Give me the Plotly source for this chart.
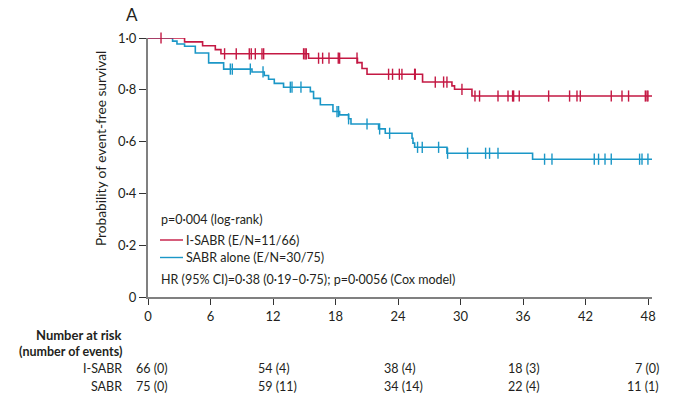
import numpy as np
import plotly.graph_objects as go

# ---- data ----
months_ticks = [0, 6, 12, 18, 24, 30, 36, 42, 48]
surv_ticks = [0, 0.2, 0.4, 0.6, 0.8, 1.0]
surv_ticklabels = ["0", "0·2", "0·4", "0·6", "0·8", "1·0"]

isabr_step_t = [0, 3.51, 5.24, 6.46, 7.0, 15.41, 20.1, 20.54, 21.02, 26.35, 29.17, 29.42, 31.09]
isabr_step_s = [1.0, 0.985, 0.970, 0.955, 0.939, 0.922, 0.905, 0.882, 0.860, 0.830, 0.815, 0.802, 0.776]
isabr_censor = [1.25, 7.35, 8.47, 9.72, 9.91, 10.3, 10.94, 11.1, 14.93, 15.07, 15.19, 16.37, 16.76,
                17.37, 18.26, 18.39, 20.06, 23.09, 23.47, 24.12, 24.37, 25.59, 25.65, 27.57, 28.37,
                28.69, 30.13, 31.38, 31.82, 33.59, 34.55, 34.99, 35.09, 35.63, 38.45, 40.46, 41.17,
                41.49, 44.46, 45.49, 46.12, 47.73, 47.89, 47.98]

sabr_step_t = [0, 2.36, 2.78, 3.51, 4.54, 5.82, 7.26, 9.98, 11.16, 11.57, 12.12, 13.01, 15.58, 15.89,
               16.54, 17.75, 18.39, 19.25, 19.48, 22.13, 22.77, 25.34, 25.43, 25.59, 28.69, 36.91]
sabr_step_s = [1.0, 0.988, 0.977, 0.968, 0.942, 0.904, 0.880, 0.869, 0.855, 0.841, 0.825, 0.810,
               0.793, 0.767, 0.742, 0.716, 0.703, 0.688, 0.668, 0.649, 0.632, 0.613, 0.594, 0.578,
               0.555, 0.532]
sabr_censor = [7.9, 8.09, 9.82, 11.04, 13.66, 13.82, 14.68, 18.14, 18.29, 19.25, 21.02, 22.23, 23.19,
               25.87, 26.32, 27.89, 28.75, 30.67, 32.4, 32.78, 33.59, 38.06, 38.77, 42.83, 43.24,
               43.86, 44.46, 47.18, 47.41, 47.98]
follow_up_end = 48.37

risk_months = [0, 12, 24, 36, 48]
isabr_risk = ["66 (0)", "54 (4)", "38 (4)", "18 (3)", "7 (0)"]
sabr_risk = ["75 (0)", "59 (11)", "34 (14)", "22 (4)", "11 (1)"]

RED = "#c41843"
BLUE = "#1b97c7"
TXT = "#231f20"
FONT = "Lato, sans-serif"

fig = go.Figure()


def step_value(tt, ss, x):
    i = np.searchsorted(np.array(tt), np.array(x), side="right") - 1
    return np.array(ss)[i]


for tt, ss, cens, col, name in [
    (sabr_step_t, sabr_step_s, sabr_censor, BLUE, "SABR alone (E/N=30/75)"),
    (isabr_step_t, isabr_step_s, isabr_censor, RED, "I-SABR (E/N=11/66)"),
]:
    x = list(tt) + [follow_up_end]
    y = list(ss) + [ss[-1]]
    fig.add_trace(go.Scatter(x=x, y=y, mode="lines", line=dict(color=col, width=1.6, shape="hv"),
                             name=name, showlegend=False, cliponaxis=False))
    fig.add_trace(go.Scatter(x=cens, y=step_value(tt, ss, cens), mode="markers",
                             marker=dict(symbol="line-ns", size=8, line=dict(color=col, width=1.4)),
                             showlegend=False, cliponaxis=False))

W, H = 680, 411
plot_left, plot_right, plot_top, plot_bottom = 148, 652, 38, 297  # page pixels in the reference
L, R, T, B = plot_left, W - plot_right, plot_top, H - plot_bottom
pw, ph = W - L - R, H - T - B


def xp(px):
    return (px - plot_left) / pw


def yp(py):
    return (plot_bottom - py) / ph


ann = []


def text(s, x, y, xanchor="left", size=12.5, bold=False):
    ann.append(dict(text=("<b>%s</b>" % s) if bold else s, x=xp(x), y=yp(y), xref="paper", yref="paper",
                    xanchor=xanchor, yanchor="middle", showarrow=False,
                    font=dict(family=FONT, size=size, color=TXT)))


text("A", 132, 15, xanchor="center", size=17)
text("p=0·004 (log-rank)", 159, 220)
text("I-SABR (E/N=11/66)", 184, 240)
text("SABR alone (E/N=30/75)", 184, 257.5)
text("HR (95% CI)=0·38 (0·19–0·75); p=0·0056 (Cox model)", 159, 279)

text("Number at risk", 124, 334.5, xanchor="right", bold=True, size=13)
text("(number of events)", 124, 351.5, xanchor="right", bold=True, size=12.5)
text("I-SABR", 124, 368.5, xanchor="right")
text("SABR", 124, 386.5, xanchor="right")

value_left_px = [134, 256, 382, 506]
for i, m in enumerate(risk_months):
    if i < 4:
        text(isabr_risk[i], value_left_px[i], 368.5)
        text(sabr_risk[i], value_left_px[i], 386.5)
    else:
        text(isabr_risk[i], 661, 368.5, xanchor="right")
        text(sabr_risk[i], 661, 386.5, xanchor="right")

ann.append(dict(text="Probability of event-free survival", textangle=-90, x=xp(100), y=yp(149),
                xref="paper", yref="paper", xanchor="center", yanchor="middle", showarrow=False,
                font=dict(family=FONT, size=13.7, color=TXT)))

shapes = [
    dict(type="line", xref="paper", yref="paper", x0=xp(160), x1=xp(183), y0=yp(240), y1=yp(240),
         line=dict(color=RED, width=1.4)),
    dict(type="line", xref="paper", yref="paper", x0=xp(160), x1=xp(183), y0=yp(257.5), y1=yp(257.5),
         line=dict(color=BLUE, width=1.4)),
]

fig.update_layout(
    width=W, height=H, margin=dict(l=L, r=R, t=T, b=B, pad=0),
    paper_bgcolor="white", plot_bgcolor="white",
    font=dict(family=FONT, size=13, color=TXT),
    annotations=ann, shapes=shapes, showlegend=False,
    xaxis=dict(range=[0, follow_up_end], tickvals=months_ticks, ticks="outside", ticklen=6,
               tickwidth=1.3, tickcolor="#333", showline=True, linecolor="#808080", linewidth=2,
               showgrid=False, zeroline=False, tickfont=dict(size=13, family=FONT, color=TXT)),
    yaxis=dict(range=[0, 1.0], tickvals=surv_ticks, ticktext=surv_ticklabels, ticks="outside",
               ticklen=7, tickwidth=1.3, tickcolor="#333", showline=True, linecolor="#808080",
               linewidth=2, showgrid=False, zeroline=False,
               tickfont=dict(size=13, family=FONT, color=TXT)),
)

fig.write_html("out.html", config={"displayModeBar": False},
               post_script="document.body.style.margin='0';")
